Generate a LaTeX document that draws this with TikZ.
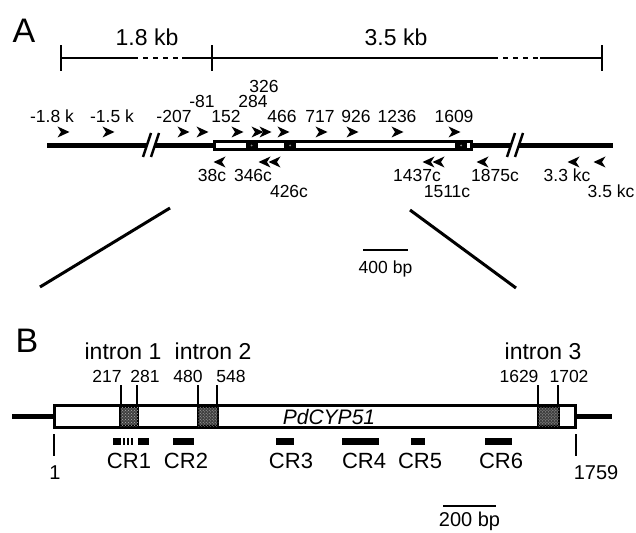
\documentclass[tikz,border=0pt]{standalone}
\usepackage{fontspec}
\setmainfont{Liberation Sans}
\usetikzlibrary{positioning, patterns}
\tikzset{
  lbl/.style={inner sep=0pt, anchor=base, font=\fontsize{17.5bp}{20bp}\selectfont},
  head/.style={inner sep=0pt, anchor=base, font=\fontsize{23bp}{26bp}\selectfont},
  crlbl/.style={inner sep=0pt, anchor=base, font=\fontsize{22bp}{24bp}\selectfont},
  panel/.style={inner sep=0pt, anchor=base, font=\fontsize{34bp}{36bp}\selectfont},
  dna/.style={line width=5bp},
  orf/.style={rectangle, draw=black, line width=2bp, fill=white, inner sep=0pt},
  intron/.style={rectangle, draw=black, line width=1.2bp, fill=black!75, inner sep=0pt,
    postaction={pattern=crosshatch dots, pattern color=white!70!black}},
  introna/.style={rectangle, fill=black, draw=black, line width=1bp, inner sep=0pt},
  bar/.style={line width=2.5bp},
  tickmark/.style={line width=2bp},
  zoomline/.style={line width=3bp},
  crbar/.style={fill=black},
  fwd/.pic={\fill (-5.5,-5.5) -- (6.5,0) -- (-5.5,5.5) -- (-2,0) -- cycle;},
  rev/.pic={\fill (5.5,-5.5) -- (-6.5,0) -- (5.5,5.5) -- (2,0) -- cycle;},
}

\begin{document}
\begin{tikzpicture}[x=1bp, y=-1bp]
\useasboundingbox (0,0) rectangle (636,533);

% panel A
\node[panel] (labA) at (24,43) {A};
\coordinate (sL) at (61,58);
\coordinate (sM) at (212,58);
\coordinate (sR) at (602,58);
\draw[bar] (sL) -- (133,58);
\draw[bar, dash pattern=on 5bp off 5bp] (133,58) -- (182,58);
\draw[bar] (182,58) -- (sM) -- (493,58);
\draw[bar, dash pattern=on 5bp off 5bp] (493,58) -- (540,58);
\draw[bar] (540,58) -- (sR);
\foreach \t in {sL,sM,sR}
  \draw[tickmark, line width=2.5bp] ([yshift=-13bp]\t) -- ([yshift=13bp]\t);
\node[head] (kb1) at (147,46) {1.8 kb};
\node[head] (kb2) at (396,46) {3.5 kb};

\node[orf, line width=3bp, minimum width=257bp, minimum height=8bp] (orfA) at (343,145.5) {};
\coordinate (lA) at (47,145.5);
\coordinate (rA) at (613,145.5);
\draw[dna] (lA) -- (orfA.west);
\draw[dna] (orfA.east) -- (rA);
\node[introna, minimum width=11bp, minimum height=10bp] (inA1) at (251.5,145.5) {};
\node[introna, minimum width=11bp, minimum height=10bp] (inA2) at (290,145.5) {};
\node[introna, minimum width=11bp, minimum height=10bp] (inA3) at (461,145.5) {};
\foreach \n in {inA1,inA2,inA3}
  \fill[black!45] (\n.center) circle (1bp);

\fill[white] (143,157) -- (151,133) -- (159,133) -- (151,157) -- cycle;
\draw[line width=2.5bp] (143,157) -- (151,133) (151,157) -- (159,133);
\fill[white] (507,157) -- (515,133) -- (523,133) -- (515,157) -- cycle;
\draw[line width=2.5bp] (507,157) -- (515,133) (515,157) -- (523,133);

\pic at (63,132) {fwd};
\pic at (108,132) {fwd};
\pic at (183,132) {fwd};
\pic at (202,132) {fwd};
\pic at (237,132) {fwd};
\pic at (257,132) {fwd};
\pic at (265,132) {fwd};
\pic at (283,132) {fwd};
\pic at (321,132) {fwd};
\pic at (352,132) {fwd};
\pic at (397,132) {fwd};
\pic at (454,132) {fwd};
\node[lbl] (f1) at (52,123) {-1.8 k};
\node[lbl] (f2) at (112,123) {-1.5 k};
\node[lbl] (f3) at (174,123) {-207};
\node[lbl] (f4) at (202,108) {-81};
\node[lbl] (f5) at (226,123) {152};
\node[lbl] (f6) at (253,108) {284};
\node[lbl] (f7) at (264,93) {326};
\node[lbl] (f8) at (282,123) {466};
\node[lbl] (f9) at (320,123) {717};
\node[lbl] (f10) at (356,123) {926};
\node[lbl] (f11) at (397,123) {1236};
\node[lbl] (f12) at (454,123) {1609};

\pic at (220,162) {rev};
\pic at (265,162) {rev};
\pic at (275,162) {rev};
\pic at (429,162) {rev};
\pic at (439,162) {rev};
\pic at (483,162) {rev};
\pic at (574,162) {rev};
\pic at (600,162) {rev};
\node[lbl] (r1) at (212,182) {38c};
\node[lbl] (r2) at (253,182) {346c};
\node[lbl] (r3) at (289,198) {426c};
\node[lbl] (r4) at (417,182) {1437c};
\node[lbl] (r5) at (447,198) {1511c};
\node[lbl] (r6) at (495,182) {1875c};
\node[lbl] (r7) at (567,182) {3.3 kc};
\node[lbl] (r8) at (611,198) {3.5 kc};

\coordinate (zA1) at (170,208);
\coordinate (zB1) at (40,287);
\coordinate (zA2) at (410,210);
\coordinate (zB2) at (516,288);
\draw[zoomline] (zA1) -- (zB1);
\draw[zoomline] (zA2) -- (zB2);

\coordinate (s4a) at (363,250);
\coordinate (s4b) at (408,250);
\draw[bar] (s4a) -- (s4b);
\node[lbl] (s4) at (385.5,273) {400 bp};

% panel B
\node[panel] (labB) at (27,352) {B};
\node[orf, minimum width=520bp, minimum height=21bp] (orfB) at (315,416.5) {};
\coordinate (lB) at (12,416.5);
\coordinate (rB) at (612,416.5);
\draw[dna] (lB) -- (orfB.west);
\draw[dna] (orfB.east) -- (rB);
\node[intron, minimum width=18bp, minimum height=19bp] (in1) at (129,416.5) {};
\node[intron, minimum width=20bp, minimum height=19bp] (in2) at (208,416.5) {};
\node[intron, minimum width=21bp, minimum height=19bp] (in3) at (548.5,416.5) {};
\draw[orf, fill=none] (orfB.north west) rectangle (orfB.south east);
\node[inner sep=0pt, anchor=base, font=\fontsize{21bp}{24bp}\selectfont\itshape] (gene) at (329,424.5) {PdCYP51};

\foreach \x in {121,137,198,217,538,558}
  \draw[tickmark] (\x,385) -- (\x,406);
\node[lbl] (e1) at (107,382) {217};
\node[lbl] (e2) at (145,382) {281};
\node[lbl] (e3) at (188,382) {480};
\node[lbl] (e4) at (231,382) {548};
\node[lbl] (e5) at (519,382) {1629};
\node[lbl] (e6) at (569,382) {1702};
\node[head] (i1) at (123,359) {intron 1};
\node[head] (i2) at (213,359) {intron 2};
\node[head] (i3) at (543,359) {intron 3};

\draw[tickmark] (orfB.south west) ++(0,6) -- ++(0,22);
\draw[tickmark] (orfB.south east) ++(0,6) -- ++(0,22);
\node[lbl, font=\fontsize{20bp}{22bp}\selectfont] (n1) at (55,479) {1};
\node[lbl, font=\fontsize{20bp}{22bp}\selectfont] (n2) at (596,479) {1759};

\fill[crbar] (113,437.5) rectangle (121,444.5);
\fill[crbar] (123,437.5) rectangle (125,444.5);
\fill[crbar] (127,437.5) rectangle (129,444.5);
\fill[crbar] (131,437.5) rectangle (133,444.5);
\fill[crbar] (138,437.5) rectangle (149,444.5);
\fill[crbar] (173,437.5) rectangle (194,444.5);
\fill[crbar] (276,437.5) rectangle (294,444.5);
\fill[crbar] (342,437.5) rectangle (379,444.5);
\fill[crbar] (411,437.5) rectangle (425,444.5);
\fill[crbar] (485,437.5) rectangle (512,444.5);
\node[crlbl] (c1) at (129,468) {CR1};
\node[crlbl] (c2) at (186,468) {CR2};
\node[crlbl] (c3) at (291,468) {CR3};
\node[crlbl] (c4) at (364,468) {CR4};
\node[crlbl] (c5) at (420,468) {CR5};
\node[crlbl] (c6) at (501,468) {CR6};

\coordinate (s2a) at (443,506);
\coordinate (s2b) at (496,506);
\draw[bar] (s2a) -- (s2b);
\node[lbl, font=\fontsize{20bp}{22bp}\selectfont] (s2) at (469.5,526) {200 bp};
\end{tikzpicture}
\end{document}
